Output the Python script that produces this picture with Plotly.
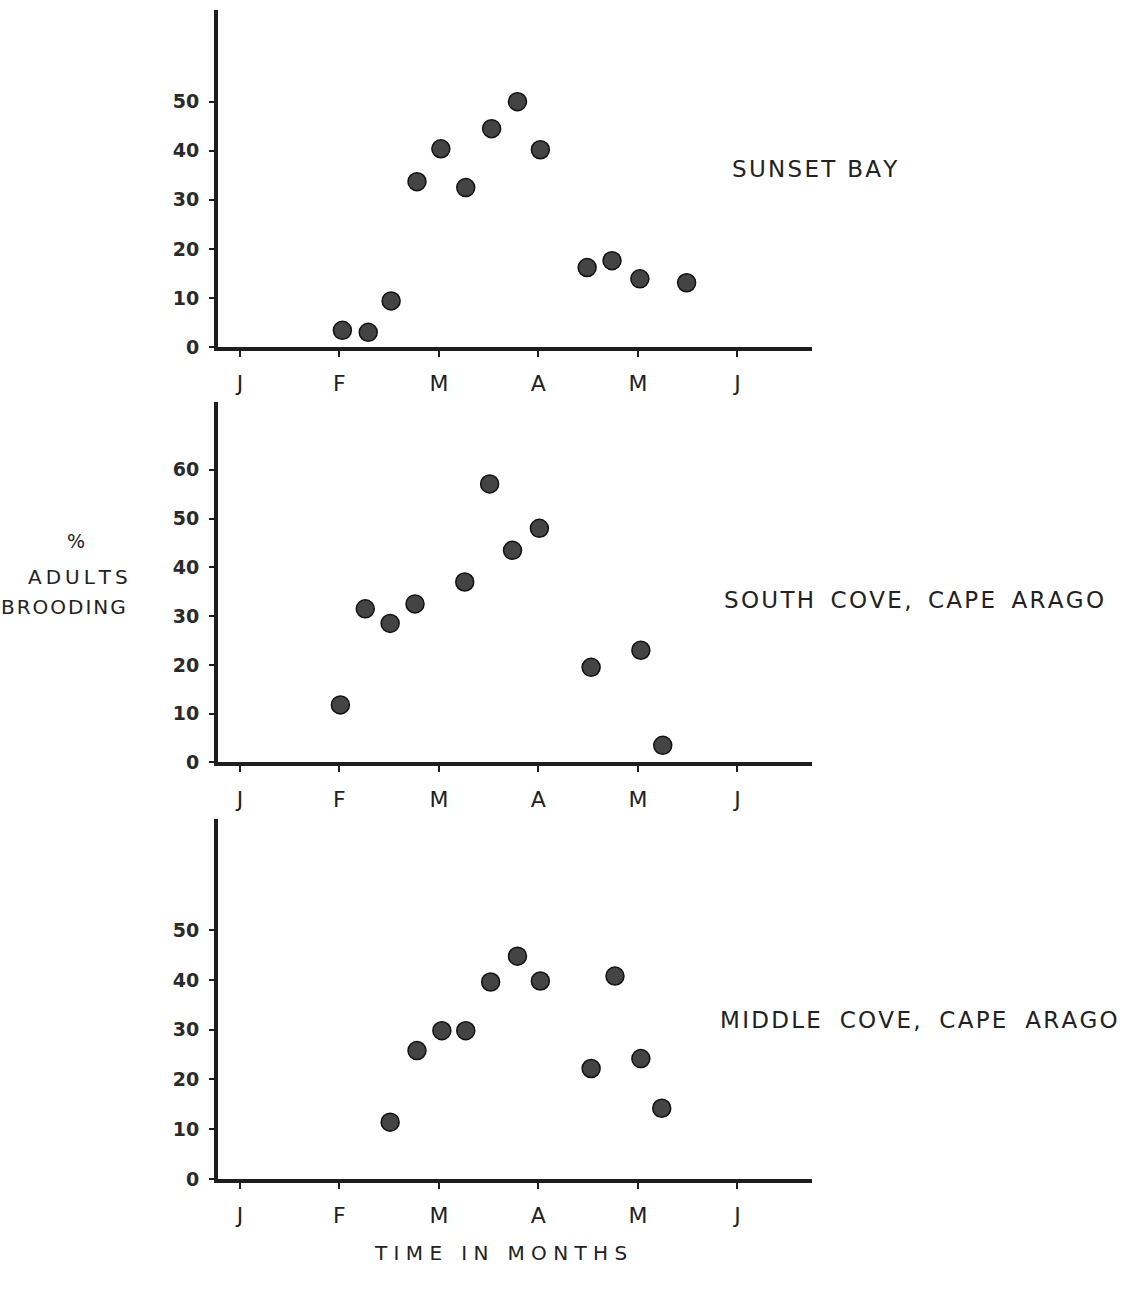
import plotly.graph_objects as go

# Month positions (0 = J(an), 1 = F, ...)
month_ticks = [0, 1, 2, 3, 4, 5]
month_labels = ["J", "F", "M", "A", "M", "J"]

# Sunset Bay
sunset_x = [1.03, 1.29, 1.52, 1.78, 2.02, 2.27, 2.53, 2.79, 3.02, 3.49, 3.74, 4.02, 4.49]
sunset_y = [3.4, 3.0, 9.4, 33.7, 40.4, 32.5, 44.5, 50.0, 40.2, 16.2, 17.6, 13.9, 13.1]

# South Cove, Cape Arago
south_x = [1.01, 1.26, 1.51, 1.76, 2.26, 2.51, 2.74, 3.01, 3.53, 4.03, 4.25]
south_y = [11.8, 31.5, 28.5, 32.5, 37.0, 57.1, 43.5, 48.0, 19.5, 23.0, 3.5]

# Middle Cove, Cape Arago
middle_x = [1.51, 1.78, 2.03, 2.27, 2.52, 2.79, 3.02, 3.53, 3.77, 4.03, 4.24]
middle_y = [11.4, 25.8, 29.8, 29.8, 39.6, 44.8, 39.8, 22.2, 40.8, 24.2, 14.2]

site_names = ["SUNSET BAY", "SOUTH COVE, CAPE ARAGO", "MIDDLE COVE, CAPE ARAGO"]
y_tickvals = [[0, 10, 20, 30, 40, 50], [0, 10, 20, 30, 40, 50, 60], [0, 10, 20, 30, 40, 50]]
y_max = [68.7, 74.0, 72.4]

W, H = 1122, 1289
x_dom = [218 / W, 812 / W]
panel_px = [(10, 350), (405, 769), (826, 1189)]  # (top, axis) pixel rows
label_px = [(730, 170), (722, 605), (718, 1029)]
word_gap = ["", "\u2009", "\u2009\u200a"]

series = [(sunset_x, sunset_y), (south_x, south_y), (middle_x, middle_y)]


def spaced(s, sep="\u2009", gap=""):
    return sep.join(s).replace(" ", " " + gap)


fig = go.Figure()
ink = "#1e1e1e"
txt = "#222222"
tick_font = dict(family="DejaVu Sans", size=19, color="#2a2a2a", weight="bold")

for i, ((xs, ys), (top, bot)) in enumerate(zip(series, panel_px)):
    n = "" if i == 0 else str(i + 1)
    fig.add_trace(go.Scatter(
        x=xs, y=ys, mode="markers", xaxis="x" + n, yaxis="y" + n,
        marker=dict(size=18, color="#444444", line=dict(color="#111111", width=1.5)),
        showlegend=False, cliponaxis=False,
    ))
    fig.layout["xaxis" + n] = dict(
        domain=x_dom, anchor="y" + n, range=[-0.22, 5.75],
        tickvals=month_ticks, ticktext=month_labels,
        ticks="outside", ticklen=6, tickwidth=2, tickcolor=ink,
        showline=True, linewidth=3.5, linecolor=ink,
        showgrid=False, zeroline=False, ticklabelstandoff=8,
        tickfont=dict(family="DejaVu Sans", size=22, color=txt),
    )
    fig.layout["yaxis" + n] = dict(
        domain=[1 - bot / H, 1 - top / H], anchor="x" + n, range=[0, y_max[i]],
        tickvals=y_tickvals[i], ticks="outside", ticklen=5, tickwidth=2, tickcolor=ink,
        showline=True, linewidth=4, linecolor=ink,
        showgrid=False, zeroline=False, ticklabelstandoff=6,
        tickfont=tick_font,
    )
    lx, ly = label_px[i]
    fig.add_annotation(
        x=lx / W, y=1 - ly / H, xref="paper", yref="paper",
        text=spaced(site_names[i], "\u200a", word_gap[i]), showarrow=False,
        xanchor="left", yanchor="middle",
        font=dict(family="DejaVu Sans", size=23, color=txt),
    )

fig.add_annotation(x=76 / W, y=1 - 546 / H, xref="paper", yref="paper",
                   text="%", showarrow=False, xanchor="center", yanchor="middle",
                   font=dict(family="DejaVu Sans", size=19, color=txt))
fig.add_annotation(x=78 / W, y=1 - 582 / H, xref="paper", yref="paper",
                   text=spaced("ADULTS"), showarrow=False, xanchor="center", yanchor="middle",
                   font=dict(family="DejaVu Sans", size=20, color=txt))
fig.add_annotation(x=64 / W, y=1 - 612 / H, xref="paper", yref="paper",
                   text=spaced("BROODING", "\u200a"), showarrow=False, xanchor="center",
                   yanchor="middle",
                   font=dict(family="DejaVu Sans", size=20, color=txt))
fig.add_annotation(x=500 / W, y=1 - 1264 / H, xref="paper", yref="paper",
                   text="T I M E   I N   M O N T H S", showarrow=False,
                   xanchor="center", yanchor="middle",
                   font=dict(family="DejaVu Sans", size=20, color=txt))

fig.update_layout(
    width=W, height=H, margin=dict(l=0, r=0, t=0, b=0),
    paper_bgcolor="white", plot_bgcolor="white",
)

fig.write_html("out.html")
